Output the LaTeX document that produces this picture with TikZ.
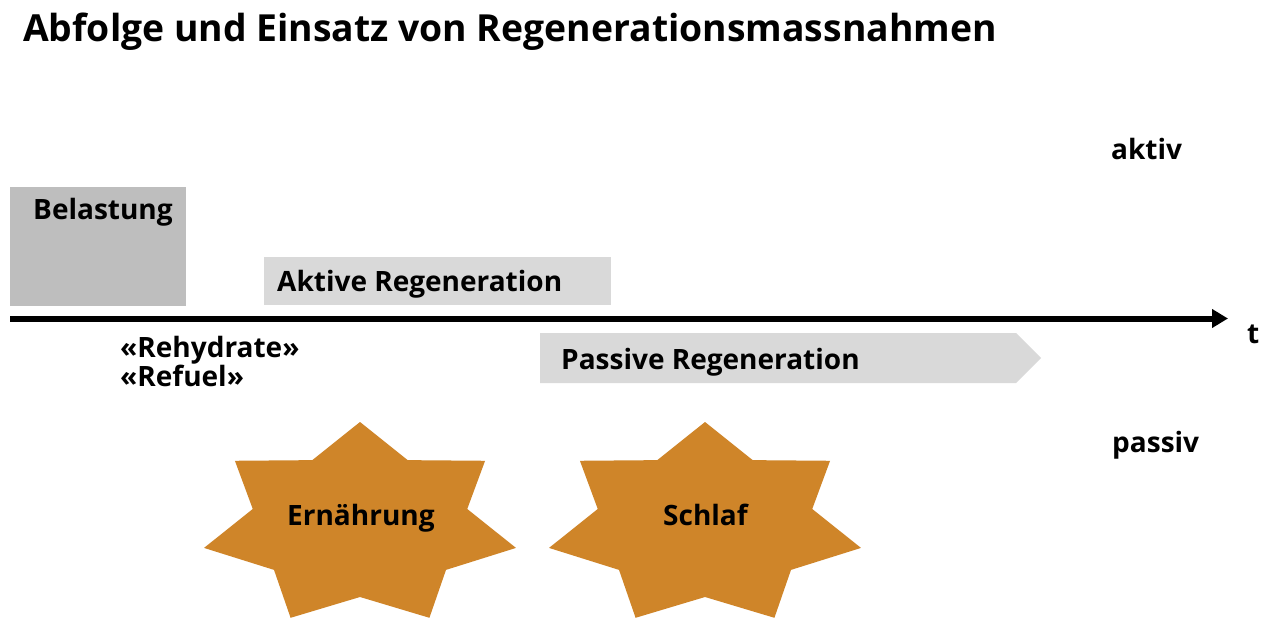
\documentclass[tikz,border=0pt]{standalone}
\usepackage{fontspec}
\setmainfont{Open Sans}
\usetikzlibrary{arrows.meta}
\definecolor{belgray}{HTML}{BEBEBE}
\definecolor{lightbox}{HTML}{D9D9D9}
\definecolor{starorange}{HTML}{CF8529}
\tikzset{
  lbl/.style={inner sep=0pt, anchor=base west, font=\fontsize{28}{34}\selectfont\bfseries},
  titlelbl/.style={inner sep=0pt, anchor=base west, font=\fontsize{37.3}{44}\selectfont\bfseries},
  starfill/.style={fill=starorange},
  axisline/.style={line width=6pt, -{Triangle[length=16pt,width=18pt]}},
}
\newcommand\regstar[2]{%
  \begin{scope}[shift={(#1,#2)}]
    \fill[starfill] (90:160pt and 103pt)
      \foreach \k in {0,...,6}{ -- ({115.7143+\k*51.4286}:110pt and 72pt) -- ({141.4286+\k*51.4286}:160pt and 103pt)} -- cycle;
  \end{scope}}
\begin{document}
\begin{tikzpicture}[x=1pt,y=-1pt]
\useasboundingbox (0,0) rectangle (1274,636);
\fill[white] (0,0) rectangle (1274,636);
% title
\node[titlelbl] (title) at (23,42) {Abfolge und Einsatz von Regenerationsmassnahmen};
% boxes
\fill[belgray] (10,187) rectangle (186,306);
\node[lbl] (bel) at (33,220) {Belastung};
\fill[lightbox] (264,257) rectangle (611,305);
\node[lbl] (akt) at (277,291) {Aktive Regeneration};
\fill[lightbox] (540,333) -- (1016,333) -- (1041,358) -- (1016,383) -- (540,383) -- cycle;
\node[lbl] (pas) at (561,369) {Passive Regeneration};
% axis
\coordinate (ax0) at (10,318.5);
\coordinate (ax1) at (1228,318.5);
\draw[axisline] (ax0) -- (ax1);
\node[lbl] (t) at (1247,343) {t};
% side labels
\node[lbl] (aktiv) at (1111,160) {aktiv};
\node[lbl] (passiv) at (1112,452) {passiv};
\node[lbl] (rehyd) at (120,357) {«Rehydrate»};
\node[lbl] (refuel) at (120,386) {«Refuel»};
% stars
\regstar{360}{525}
\node[lbl] (ern) at (287,525) {Ernährung};
\regstar{705}{525}
\node[lbl] (schlaf) at (663,525) {Schlaf};
\end{tikzpicture}
\end{document}
